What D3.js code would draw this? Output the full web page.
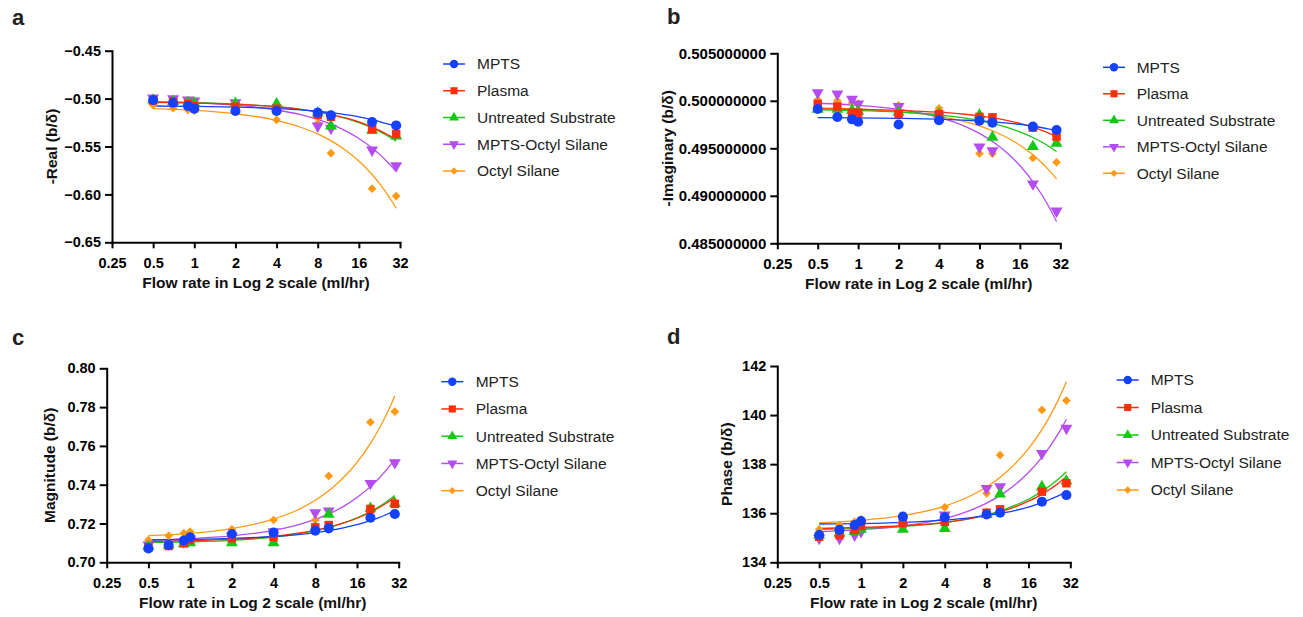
<!DOCTYPE html>
<html>
<head>
<meta charset="utf-8">
<script src="https://cdn.jsdelivr.net/npm/d3@7"></script>
<style>
  body { margin: 0; background: #fff; }
  svg { display: block; font-family: "Liberation Sans", Arial, sans-serif; }
</style>
</head>
<body>
<div id="chart"></div>
<script>
// ---- data ----
const seriesNames = ["MPTS", "Plasma", "Untreated Substrate", "MPTS-Octyl Silane", "Octyl Silane"];
const seriesColors = ["#1440ff", "#ff2d0a", "#14c814", "#b44cf0", "#ff9914"];
const flowRates = [0.5, 0.7, 0.9, 1, 2, 4, 8, 10, 20, 30];
const fitFlow = [0.5, 1, 2, 4, 6, 8, 10.7, 13, 16, 20, 23, 26, 28, 30];
const xTickValues = [0.25, 0.5, 1, 2, 4, 8, 16, 32];
const xTickLabels = ["0.25", "0.5", "1", "2", "4", "8", "16", "32"];

// a: -Real
const realPoints = [
  [-0.5015, -0.5043, -0.5077, -0.5105, -0.5130, -0.5130, -0.5147, -0.5175, -0.5244, -0.5280],
  [-0.5020, -0.5030, -0.5056, -0.5077, -0.5084, -0.5105, -0.5170, -0.5190, -0.5320, -0.5370],
  [-0.5015, -0.5030, -0.5040, -0.5045, -0.5050, -0.5055, -0.5150, -0.5286, -0.5330, -0.5390],
  [-0.4994, -0.5001, -0.5015, -0.5025, -0.5043, -0.5110, -0.5286, -0.5310, -0.5537, -0.5700],
  [-0.5067, -0.5100, -0.5119, -0.5126, -0.5136, -0.5223, -0.5258, -0.5570, -0.5940, -0.6017]
];
const realFits = [
  [-0.5077, -0.5081, -0.5088, -0.5103, -0.5117, -0.5132, -0.5152, -0.5169, -0.5190, -0.5220, -0.5242, -0.5264, -0.5278, -0.5293],
  [-0.5039, -0.5046, -0.5059, -0.5085, -0.5112, -0.5138, -0.5174, -0.5205, -0.5244, -0.5297, -0.5337, -0.5377, -0.5403, -0.5430],
  [-0.5036, -0.5043, -0.5057, -0.5085, -0.5112, -0.5140, -0.5177, -0.5209, -0.5251, -0.5306, -0.5348, -0.5390, -0.5417, -0.5445],
  [-0.5032, -0.5044, -0.5069, -0.5119, -0.5168, -0.5218, -0.5285, -0.5342, -0.5416, -0.5515, -0.5590, -0.5664, -0.5713, -0.5763],
  [-0.5105, -0.5123, -0.5158, -0.5228, -0.5299, -0.5369, -0.5465, -0.5546, -0.5651, -0.5792, -0.5898, -0.6004, -0.6074, -0.6145]
];

// b: -Imaginary
const imagPoints = [
  [0.49914, 0.49830, 0.49805, 0.49780, 0.49750, 0.49795, 0.49790, 0.49770, 0.49728, 0.49693],
  [0.49967, 0.49940, 0.49875, 0.49875, 0.49860, 0.49860, 0.49830, 0.49826, 0.49718, 0.49623],
  [0.49910, 0.49910, 0.49900, 0.49890, 0.49880, 0.49860, 0.49850, 0.49616, 0.49518, 0.49553],
  [0.50086, 0.50072, 0.50016, 0.49967, 0.49940, 0.49850, 0.49514, 0.49475, 0.49125, 0.48840],
  [0.50009, 0.50000, 0.49980, 0.49970, 0.49953, 0.49921, 0.49444, 0.49444, 0.49398, 0.49353]
];
const imagFits = [
  [0.49823, 0.49821, 0.49816, 0.49807, 0.49797, 0.49788, 0.49776, 0.49765, 0.49751, 0.49732, 0.49719, 0.49705, 0.49695, 0.49686],
  [0.49915, 0.49910, 0.49900, 0.49880, 0.49861, 0.49841, 0.49814, 0.49791, 0.49762, 0.49722, 0.49692, 0.49663, 0.49643, 0.49623],
  [0.49904, 0.49897, 0.49882, 0.49852, 0.49822, 0.49792, 0.49752, 0.49718, 0.49673, 0.49614, 0.49569, 0.49525, 0.49495, 0.49465],
  [0.49974, 0.49953, 0.49911, 0.49826, 0.49742, 0.49657, 0.49543, 0.49446, 0.49319, 0.49150, 0.49024, 0.48897, 0.48813, 0.48728],
  [0.49925, 0.49912, 0.49887, 0.49836, 0.49786, 0.49735, 0.49666, 0.49608, 0.49532, 0.49431, 0.49355, 0.49278, 0.49228, 0.49177]
];

// c: Magnitude
const magPoints = [
  [0.7072, 0.7089, 0.7112, 0.7129, 0.7146, 0.7153, 0.7163, 0.7175, 0.7230, 0.7249],
  [0.7077, 0.7084, 0.7098, 0.7115, 0.7124, 0.7129, 0.7180, 0.7192, 0.7275, 0.7301],
  [0.7081, 0.7089, 0.7095, 0.7101, 0.7101, 0.7101, 0.7175, 0.7247, 0.7278, 0.7304],
  [0.7090, 0.7095, 0.7105, 0.7120, 0.7135, 0.7158, 0.7256, 0.7265, 0.7407, 0.7514],
  [0.7115, 0.7137, 0.7150, 0.7158, 0.7170, 0.7218, 0.7218, 0.7445, 0.7722, 0.7777]
];
const magFits = [
  [0.7115, 0.7118, 0.7123, 0.7133, 0.7143, 0.7153, 0.7167, 0.7179, 0.7194, 0.7215, 0.7230, 0.7246, 0.7256, 0.7266],
  [0.7107, 0.7111, 0.7119, 0.7134, 0.7150, 0.7165, 0.7186, 0.7204, 0.7227, 0.7258, 0.7281, 0.7304, 0.7320, 0.7335],
  [0.7101, 0.7105, 0.7113, 0.7130, 0.7146, 0.7163, 0.7185, 0.7204, 0.7229, 0.7262, 0.7286, 0.7311, 0.7328, 0.7344],
  [0.7115, 0.7122, 0.7136, 0.7164, 0.7193, 0.7221, 0.7259, 0.7291, 0.7334, 0.7390, 0.7432, 0.7475, 0.7503, 0.7531],
  [0.7137, 0.7149, 0.7174, 0.7222, 0.7271, 0.7320, 0.7386, 0.7442, 0.7515, 0.7613, 0.7686, 0.7759, 0.7808, 0.7857]
];

// d: Phase
const phasePoints = [
  [135.11, 135.32, 135.52, 135.68, 135.86, 135.83, 135.95, 136.02, 136.47, 136.74],
  [135.04, 135.11, 135.32, 135.48, 135.59, 135.65, 136.02, 136.16, 136.88, 137.22],
  [135.11, 135.18, 135.25, 135.35, 135.34, 135.38, 135.95, 136.78, 137.08, 137.31],
  [134.98, 134.98, 135.11, 135.25, 135.50, 135.93, 137.01, 137.08, 138.44, 139.46],
  [135.34, 135.52, 135.65, 135.75, 135.85, 136.24, 136.81, 138.37, 140.21, 140.59]
];
const phaseFits = [
  [135.56, 135.58, 135.63, 135.72, 135.81, 135.90, 136.02, 136.12, 136.25, 136.43, 136.57, 136.70, 136.79, 136.88],
  [135.38, 135.42, 135.49, 135.63, 135.77, 135.92, 136.11, 136.27, 136.49, 136.77, 136.99, 137.20, 137.35, 137.49],
  [135.34, 135.38, 135.46, 135.62, 135.78, 135.94, 136.15, 136.34, 136.57, 136.89, 137.13, 137.37, 137.53, 137.69],
  [135.25, 135.33, 135.48, 135.79, 136.10, 136.41, 136.83, 137.19, 137.66, 138.28, 138.74, 139.21, 139.52, 139.83],
  [135.61, 135.71, 135.90, 136.29, 136.68, 137.07, 137.60, 138.05, 138.63, 139.41, 139.99, 140.58, 140.97, 141.36]
];

const panels = [
  { letter: "a", title: "-Real (b/\u03B4)", points: realPoints, fits: realFits,
    yDomain: [-0.65, -0.45], yTicks: [-0.65, -0.60, -0.55, -0.50, -0.45], yFmt: ".2f",
    box: { l: 112, t: 50.7, w: 288, h: 191.6 }, letterPos: [12, 25], yTitleX: 51.5, tickFont: 14.5,
    legend: { x: 454, tx: 477, y: 64, dy: 26.75 } },
  { letter: "b", title: "-Imaginary (b/\u03B4)", points: imagPoints, fits: imagFits,
    yDomain: [0.485, 0.505], yTicks: [0.485, 0.490, 0.495, 0.500, 0.505], yFmt: ".9f",
    box: { l: 777.3, t: 53.3, w: 283, h: 190 }, letterPos: [667, 24], yTitleX: 668, tickFont: 15,
    legend: { x: 1114, tx: 1136.7, y: 67.3, dy: 26.5 } },
  { letter: "c", title: "Magnitude (b/\u03B4)", points: magPoints, fits: magFits,
    yDomain: [0.70, 0.80], yTicks: [0.70, 0.72, 0.74, 0.76, 0.78, 0.80], yFmt: ".2f",
    box: { l: 106.7, t: 368.3, w: 292, h: 194 }, letterPos: [12, 345], yTitleX: 50, tickFont: 14.5,
    legend: { x: 452.3, tx: 475.7, y: 381.7, dy: 27.25 } },
  { letter: "d", title: "Phase (b/\u03B4)", points: phasePoints, fits: phaseFits,
    yDomain: [134, 142], yTicks: [134, 136, 138, 140, 142], yFmt: "d",
    box: { l: 777.3, t: 366, w: 293, h: 196.3 }, letterPos: [667, 344], yTitleX: 726.5, tickFont: 14.5,
    legend: { x: 1127.7, tx: 1150.7, y: 380, dy: 27.5 } }
];

const symbolTypes = [d3.symbolCircle, d3.symbolSquare, d3.symbolTriangle, d3.symbolTriangle, d3.symbolSquare];
const symbolSizes = [80, 72, 62, 62, 38];
const symbolRot = [0, 0, 0, 180, 45];

const svg = d3.select("#chart").append("svg").attr("width", 1303).attr("height", 617);

const drawPanel = (p) => {
  const g = svg.append("g");
  const { l, t, w, h } = p.box;

  const xScale = d3.scaleLog().base(2).domain([0.25, 32]).range([l, l + w]);
  const yScale = d3.scaleLinear().domain(p.yDomain).range([t + h, t]);

  // panel letter
  g.append("text").attr("x", p.letterPos[0]).attr("y", p.letterPos[1])
    .attr("font-size", 22).attr("font-weight", "bold").attr("fill", "#222").text(p.letter);

  // fit lines, drawn bottom-up so blue ends on top
  const lineGen = d3.line()
    .x(d => xScale(d[0]))
    .y(d => yScale(d[1]))
    .curve(d3.curveMonotoneX);

  const order = [4, 3, 2, 1, 0];
  const plotg = g.append("g");
  order.forEach(i => {
    plotg.append("path")
      .attr("d", lineGen(fitFlow.map((x, j) => [x, p.fits[i][j]])))
      .attr("fill", "none")
      .attr("stroke", seriesColors[i])
      .attr("stroke-width", 1.3);
  });
  order.forEach(i => {
    plotg.selectAll(".pt-" + i)
      .data(flowRates.map((x, j) => [x, p.points[i][j]]))
      .join("path")
      .attr("class", "pt-" + i)
      .attr("d", d3.symbol().type(symbolTypes[i]).size(symbolSizes[i]))
      .attr("transform", d => `translate(${xScale(d[0])},${yScale(d[1])}) rotate(${symbolRot[i]})`)
      .attr("fill", seriesColors[i]);
  });

  // axes
  const xAxis = d3.axisBottom(xScale).tickValues(xTickValues)
    .tickFormat((d, i) => xTickLabels[i]).tickSizeInner(6).tickSizeOuter(0).tickPadding(9);
  const yAxis = d3.axisLeft(yScale).tickValues(p.yTicks)
    .tickFormat(d3.format(p.yFmt)).tickSizeInner(7).tickSizeOuter(0).tickPadding(4);

  const xaxisg = g.append("g").attr("transform", `translate(0,${t + h})`).call(xAxis);
  const yaxisg = g.append("g").attr("transform", `translate(${l},0)`).call(yAxis);
  [xaxisg, yaxisg].forEach(ax => {
    ax.select(".domain").attr("stroke", "#000").attr("stroke-width", 2).attr("stroke-linecap", "square");
    ax.selectAll(".tick line").attr("stroke", "#000").attr("stroke-width", 2);
    ax.selectAll(".tick text").attr("fill", "#000").attr("font-size", p.tickFont)
      .attr("font-weight", "bold").attr("font-family", "Liberation Sans, Arial, sans-serif");
  });

  // axis titles
  g.append("text").attr("x", l + w / 2).attr("y", t + h + 46)
    .attr("text-anchor", "middle").attr("font-size", 15.5).attr("font-weight", "bold")
    .attr("fill", "#111").text("Flow rate in Log 2 scale (ml/hr)");
  g.append("text")
    .attr("transform", `translate(${p.yTitleX},${t + h / 2}) rotate(-90)`)
    .attr("dy", "0.35em").attr("text-anchor", "middle")
    .attr("font-size", 15.5).attr("font-weight", "bold").attr("fill", "#111").text(p.title);

  // legend
  const lg = g.append("g");
  seriesNames.forEach((name, i) => {
    const y = p.legend.y + i * p.legend.dy;
    lg.append("line").attr("x1", p.legend.x - 11).attr("x2", p.legend.x + 11)
      .attr("y1", y).attr("y2", y).attr("stroke", seriesColors[i]).attr("stroke-width", 1.5);
    lg.append("path")
      .attr("d", d3.symbol().type(symbolTypes[i]).size(symbolSizes[i] * 0.7))
      .attr("transform", `translate(${p.legend.x},${y}) rotate(${symbolRot[i]})`)
      .attr("fill", seriesColors[i]);
    lg.append("text").attr("x", p.legend.tx).attr("y", y).attr("dy", "0.35em")
      .attr("font-size", 15.5).attr("fill", "#222").text(name);
  });
};

panels.forEach(drawPanel);
</script>
</body>
</html>
